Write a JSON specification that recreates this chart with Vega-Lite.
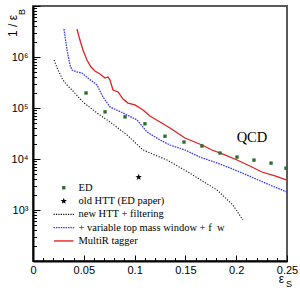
{
  "$schema": "https://vega.github.io/schema/vega-lite/v6.json",
  "width": 254,
  "height": 255,
  "autosize": "none",
  "padding": {"left": 33, "top": 6, "right": 13, "bottom": 27},
  "background": "white",
  "config": {
    "view": {"stroke": "#5a5a5a", "strokeWidth": 2},
    "font": "Liberation Sans",
    "axis": {"grid": false}
  },
  "data": {
    "values": [
      {"series": "ED", "x": 0.0522, "y": 197000},
      {"series": "ED", "x": 0.0709, "y": 84000},
      {"series": "ED", "x": 0.0906, "y": 67000},
      {"series": "ED", "x": 0.1102, "y": 49000},
      {"series": "ED", "x": 0.1299, "y": 28000},
      {"series": "ED", "x": 0.1486, "y": 21500},
      {"series": "ED", "x": 0.1663, "y": 18000},
      {"series": "ED", "x": 0.1841, "y": 13100},
      {"series": "ED", "x": 0.2008, "y": 10900},
      {"series": "ED", "x": 0.2175, "y": 9500},
      {"series": "ED", "x": 0.2343, "y": 8300},
      {"series": "ED", "x": 0.249, "y": 6600},
      {"series": "old HTT (ED paper)", "x": 0.104, "y": 4400},
      {"series": "new HTT + filtering", "x": 0.0207, "y": 873000},
      {"series": "new HTT + filtering", "x": 0.0246, "y": 556000},
      {"series": "new HTT + filtering", "x": 0.0295, "y": 354000},
      {"series": "new HTT + filtering", "x": 0.0335, "y": 282000},
      {"series": "new HTT + filtering", "x": 0.0384, "y": 225000},
      {"series": "new HTT + filtering", "x": 0.0492, "y": 131000},
      {"series": "new HTT + filtering", "x": 0.063, "y": 79800},
      {"series": "new HTT + filtering", "x": 0.0758, "y": 53100},
      {"series": "new HTT + filtering", "x": 0.0925, "y": 29600},
      {"series": "new HTT + filtering", "x": 0.1083, "y": 15000},
      {"series": "new HTT + filtering", "x": 0.1319, "y": 9550},
      {"series": "new HTT + filtering", "x": 0.1525, "y": 5560},
      {"series": "new HTT + filtering", "x": 0.1811, "y": 2470},
      {"series": "new HTT + filtering", "x": 0.1968, "y": 1250},
      {"series": "new HTT + filtering", "x": 0.2066, "y": 637},
      {"series": "+ variable top mass window + f_w", "x": 0.0305, "y": 3540000},
      {"series": "+ variable top mass window + f_w", "x": 0.0335, "y": 1370000},
      {"series": "+ variable top mass window + f_w", "x": 0.0364, "y": 697000},
      {"series": "+ variable top mass window + f_w", "x": 0.0384, "y": 556000},
      {"series": "+ variable top mass window + f_w", "x": 0.0433, "y": 508000},
      {"series": "+ variable top mass window + f_w", "x": 0.0482, "y": 485000},
      {"series": "+ variable top mass window + f_w", "x": 0.0541, "y": 387000},
      {"series": "+ variable top mass window + f_w", "x": 0.063, "y": 282000},
      {"series": "+ variable top mass window + f_w", "x": 0.0689, "y": 164000},
      {"series": "+ variable top mass window + f_w", "x": 0.0758, "y": 105000},
      {"series": "+ variable top mass window + f_w", "x": 0.0886, "y": 79800},
      {"series": "+ variable top mass window + f_w", "x": 0.1024, "y": 58200},
      {"series": "+ variable top mass window + f_w", "x": 0.1122, "y": 33800},
      {"series": "+ variable top mass window + f_w", "x": 0.125, "y": 23600},
      {"series": "+ variable top mass window + f_w", "x": 0.1348, "y": 18800},
      {"series": "+ variable top mass window + f_w", "x": 0.1496, "y": 15000},
      {"series": "+ variable top mass window + f_w", "x": 0.1643, "y": 10900},
      {"series": "+ variable top mass window + f_w", "x": 0.1811, "y": 8360},
      {"series": "+ variable top mass window + f_w", "x": 0.1939, "y": 6670},
      {"series": "+ variable top mass window + f_w", "x": 0.21, "y": 4900},
      {"series": "+ variable top mass window + f_w", "x": 0.2332, "y": 3090},
      {"series": "+ variable top mass window + f_w", "x": 0.25, "y": 2250},
      {"series": "MultiR tagger", "x": 0.0433, "y": 3540000},
      {"series": "MultiR tagger", "x": 0.0462, "y": 2150000},
      {"series": "MultiR tagger", "x": 0.0492, "y": 1370000},
      {"series": "MultiR tagger", "x": 0.0531, "y": 873000},
      {"series": "MultiR tagger", "x": 0.0571, "y": 637000},
      {"series": "MultiR tagger", "x": 0.061, "y": 531000},
      {"series": "MultiR tagger", "x": 0.0659, "y": 465000},
      {"series": "MultiR tagger", "x": 0.0709, "y": 387000},
      {"series": "MultiR tagger", "x": 0.0738, "y": 406000},
      {"series": "MultiR tagger", "x": 0.0758, "y": 354000},
      {"series": "MultiR tagger", "x": 0.0787, "y": 225000},
      {"series": "MultiR tagger", "x": 0.0837, "y": 206000},
      {"series": "MultiR tagger", "x": 0.0886, "y": 150000},
      {"series": "MultiR tagger", "x": 0.0935, "y": 125000},
      {"series": "MultiR tagger", "x": 0.1004, "y": 115000},
      {"series": "MultiR tagger", "x": 0.1083, "y": 91400},
      {"series": "MultiR tagger", "x": 0.1151, "y": 69700},
      {"series": "MultiR tagger", "x": 0.125, "y": 53100},
      {"series": "MultiR tagger", "x": 0.1348, "y": 40600},
      {"series": "MultiR tagger", "x": 0.1496, "y": 25800},
      {"series": "MultiR tagger", "x": 0.1663, "y": 18800},
      {"series": "MultiR tagger", "x": 0.1761, "y": 15000},
      {"series": "MultiR tagger", "x": 0.1889, "y": 12000},
      {"series": "MultiR tagger", "x": 0.2008, "y": 9550},
      {"series": "MultiR tagger", "x": 0.2135, "y": 7290},
      {"series": "MultiR tagger", "x": 0.2253, "y": 5560},
      {"series": "MultiR tagger", "x": 0.2381, "y": 4650},
      {"series": "MultiR tagger", "x": 0.25, "y": 3870}
    ]
  },
  "resolve": {"axis": {"x": "independent", "y": "independent"}},
  "layer": [
    {
      "transform": [{"filter": "datum.series=='new HTT + filtering'"}],
      "mark": {"type": "line", "color": "#222222", "strokeWidth": 1.2, "strokeDash": [1.2, 1.6]},
      "encoding": {
        "x": {
          "field": "x",
          "type": "quantitative",
          "scale": {"domain": [0, 0.25], "nice": false, "zero": false},
          "axis": {
            "orient": "bottom",
            "title": "ε",
            "titleFont": "Liberation Sans",
            "titleFontSize": 12,
            "titleFontWeight": "normal",
            "titleColor": "black",
            "titleX": 248,
            "titleY": 21.5,
            "titleAlign": "center",
            "titleBaseline": "alphabetic",
            "values": [0, 0.01, 0.02, 0.03, 0.04, 0.05, 0.06, 0.07, 0.08, 0.09, 0.1, 0.11, 0.12, 0.13, 0.14, 0.15, 0.16, 0.17, 0.18, 0.19, 0.2, 0.21, 0.22, 0.23, 0.24, 0.25],
            "labelExpr": "abs(datum.value*20-round(datum.value*20))<0.001 ? (datum.value==0 ? '0' : format(datum.value, '.2~f')) : ''",
            "labelFont": "Liberation Sans",
            "labelFontSize": 11,
            "labelColor": "black",
            "labelFlush": false,
            "labelOverlap": false,
            "labelBound": false,
            "labelPadding": 7,
            "domainColor": "black",
            "domainWidth": 2,
            "tickColor": "black",
            "tickWidth": 1,
            "tickSize": -3.5
          }
        },
        "y": {
          "field": "y",
          "type": "quantitative",
          "scale": {"type": "log", "domain": [100, 10000000], "nice": false},
          "axis": {
            "orient": "left",
            "title": "1 / ε",
            "titleFont": "Liberation Sans",
            "titleFontSize": 12,
            "titleFontWeight": "normal",
            "titleColor": "black",
            "titleAngle": -90,
            "titleX": -17,
            "titleY": 30.5,
            "titleAlign": "left",
            "titleBaseline": "alphabetic",
            "values": [100, 200, 300, 400, 500, 600, 700, 800, 900, 1000, 2000, 3000, 4000, 5000, 6000, 7000, 8000, 9000, 10000, 20000, 30000, 40000, 50000, 60000, 70000, 80000, 90000, 100000, 200000, 300000, 400000, 500000, 600000, 700000, 800000, 900000, 1000000, 2000000, 3000000, 4000000, 5000000, 6000000, 7000000, 8000000, 9000000, 10000000],
            "labelExpr": "datum.value==1000 ? '10³' : datum.value==10000 ? '10⁴' : datum.value==100000 ? '10⁵' : datum.value==1000000 ? '10⁶' : ''",
            "labelFont": "Liberation Sans",
            "labelFontSize": 11,
            "labelColor": "black",
            "labelFlush": false,
            "labelOverlap": false,
            "labelBound": false,
            "labelPadding": 8.5,
            "domainColor": "black",
            "domainWidth": 2,
            "tickColor": "black",
            "tickWidth": 1,
            "tickSize": -3.5
          }
        }
      }
    },
    {
      "transform": [{"filter": "datum.series=='+ variable top mass window + f_w'"}],
      "mark": {"type": "line", "color": "#3a3af0", "strokeWidth": 1.3, "strokeDash": [1.6, 1]},
      "encoding": {
        "x": {
          "field": "x",
          "type": "quantitative",
          "axis": {
            "orient": "bottom",
            "title": null,
            "values": [0, 0.05, 0.1, 0.15, 0.2, 0.25],
            "labels": false,
            "domain": false,
            "tickColor": "black",
            "tickWidth": 1,
            "tickSize": -6
          }
        },
        "y": {
          "field": "y",
          "type": "quantitative",
          "scale": {"type": "log"},
          "axis": {
            "orient": "left",
            "title": null,
            "values": [100, 1000, 10000, 100000, 1000000, 10000000],
            "labels": false,
            "domain": false,
            "tickColor": "black",
            "tickWidth": 1,
            "tickSize": -7
          }
        }
      }
    },
    {
      "transform": [{"filter": "datum.series=='MultiR tagger'"}],
      "mark": {"type": "line", "color": "#e02020", "strokeWidth": 1.3},
      "encoding": {
        "x": {"field": "x", "type": "quantitative", "axis": null},
        "y": {"field": "y", "type": "quantitative", "scale": {"type": "log"}, "axis": null}
      }
    },
    {
      "transform": [{"filter": "datum.series=='ED' || datum.series=='old HTT (ED paper)'"}],
      "mark": {"type": "point", "filled": true, "size": 64, "opacity": 1, "strokeWidth": 0},
      "encoding": {
        "x": {"field": "x", "type": "quantitative", "axis": null},
        "y": {"field": "y", "type": "quantitative", "scale": {"type": "log"}, "axis": null},
        "color": {
          "field": "series",
          "type": "nominal",
          "scale": {
            "domain": ["ED", "old HTT (ED paper)", "new HTT + filtering", "+ variable top mass window + f_w", "MultiR tagger"],
            "range": ["#2f6b2f", "#000000", "#111111", "#3a3af0", "#e02020"]
          },
          "legend": {
            "orient": "none",
            "legendX": 25.5,
            "legendY": 176.5,
            "title": null,
            "padding": 0,
            "symbolSize": 64,
            "symbolStrokeWidth": 0,
            "symbolOpacity": 1,
            "labelFont": "Liberation Serif",
            "labelFontSize": 10.5,
            "labelColor": "black",
            "labelOffset": 9.5,
            "labelLimit": 300,
            "rowPadding": 2.3,
            "labelExpr": "datum.label=='+ variable top mass window + f_w' ? '\u00a0+ variable top mass window + f \u00a0w' : datum.label"
          }
        },
        "shape": {
          "field": "series",
          "type": "nominal",
          "scale": {
            "domain": ["ED", "old HTT (ED paper)", "new HTT + filtering", "+ variable top mass window + f_w", "MultiR tagger"],
            "range": [
              "M-0.42,-0.42H0.42V0.42H-0.42Z",
              "M0,-0.85L0.206,-0.283L0.808,-0.263L0.333,0.108L0.5,0.688L0,0.35L-0.5,0.688L-0.333,0.108L-0.808,-0.263L-0.206,-0.283Z",
              "M-2.55,-0.15h0.3v0.3h-0.3ZM-1.95,-0.15h0.3v0.3h-0.3ZM-1.35,-0.15h0.3v0.3h-0.3ZM-0.75,-0.15h0.3v0.3h-0.3ZM-0.15,-0.15h0.3v0.3h-0.3ZM0.45,-0.15h0.3v0.3h-0.3ZM1.05,-0.15h0.3v0.3h-0.3ZM1.65,-0.15h0.3v0.3h-0.3ZM2.25,-0.15h0.3v0.3h-0.3Z",
              "M-2.55,-0.15h0.38v0.3h-0.38ZM-1.95,-0.15h0.38v0.3h-0.38ZM-1.35,-0.15h0.38v0.3h-0.38ZM-0.75,-0.15h0.38v0.3h-0.38ZM-0.15,-0.15h0.38v0.3h-0.38ZM0.45,-0.15h0.38v0.3h-0.38ZM1.05,-0.15h0.38v0.3h-0.38ZM1.65,-0.15h0.38v0.3h-0.38ZM2.25,-0.15h0.38v0.3h-0.38Z",
              "M-2.45,-0.17H2.45V0.17H-2.45Z"
            ]
          },
          "legend": {
            "orient": "none",
            "legendX": 25.5,
            "legendY": 176.5,
            "title": null,
            "padding": 0,
            "symbolSize": 64,
            "symbolStrokeWidth": 0,
            "symbolOpacity": 1,
            "labelFont": "Liberation Serif",
            "labelFontSize": 10.5,
            "labelColor": "black",
            "labelOffset": 9.5,
            "labelLimit": 300,
            "rowPadding": 2.3,
            "labelExpr": "datum.label=='+ variable top mass window + f_w' ? '\u00a0+ variable top mass window + f \u00a0w' : datum.label"
          }
        }
      }
    },
    {
      "data": {"values": [{"label": "QCD"}]},
      "mark": {"type": "text", "font": "Liberation Serif", "fontSize": 14.5, "align": "center", "baseline": "middle", "color": "black"},
      "encoding": {
        "text": {"field": "label"},
        "x": {"datum": 0.2155, "type": "quantitative", "axis": null},
        "y": {"datum": 25800, "type": "quantitative", "scale": {"type": "log"}, "axis": null}
      }
    },
    {
      "data": {"values": [{"label": "B"}]},
      "mark": {"type": "text", "font": "Liberation Sans", "fontSize": 9, "angle": 270, "align": "left", "baseline": "alphabetic", "dx": -9, "dy": -8, "color": "black"},
      "encoding": {
        "text": {"field": "label"},
        "x": {"datum": 0, "type": "quantitative", "axis": null},
        "y": {"datum": 10000000, "type": "quantitative", "scale": {"type": "log"}, "axis": null}
      }
    },
    {
      "data": {"values": [{"label": "S"}]},
      "mark": {"type": "text", "font": "Liberation Sans", "fontSize": 9, "align": "center", "baseline": "alphabetic", "dx": 2, "dy": 25.5, "color": "black"},
      "encoding": {
        "text": {"field": "label"},
        "x": {"datum": 0.25, "type": "quantitative", "axis": null},
        "y": {"datum": 100, "type": "quantitative", "scale": {"type": "log"}, "axis": null}
      }
    }
  ]
}
